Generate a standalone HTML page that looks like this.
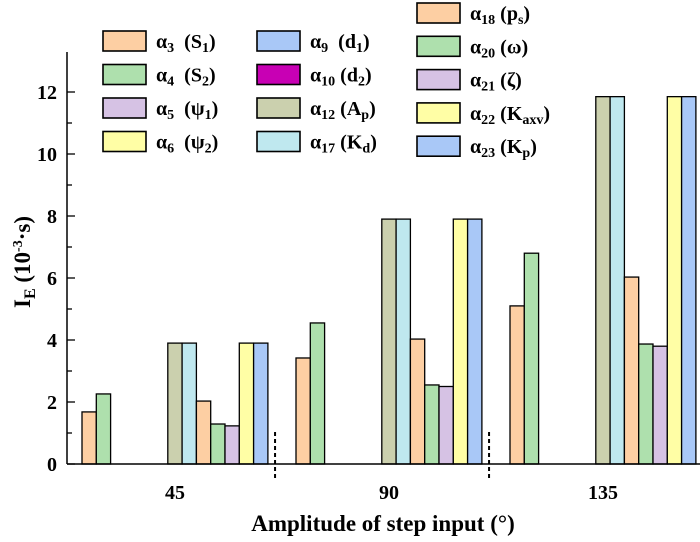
<!DOCTYPE html>
<html><head><meta charset="utf-8"><style>
body{margin:0;background:#fff}
svg{display:block;font-family:"Liberation Serif",serif;font-weight:bold}
</style></head><body>
<svg id="c" width="700" height="542"></svg>
<script>
const categories=["45","90","135"];
const seriesNames=[["α","3","(S","1",")"],["α","4","(S","2",")"],["α","5","(ψ","1",")"],["α","6","(ψ","2",")"],["α","9","(d","1",")"],["α","10","(d","2",")"],["α","12","(A","p",")"],["α","17","(K","d",")"],["α","18","(p","s",")"],["α","20","(ω",""," )"],["α","21","(ζ",""," )"],["α","22","(K","axv",")"],["α","23","(K","p",")"]];
const a3=[1.68,3.42,5.1];
const a4=[2.26,4.55,6.8];
const a5=[0,0,0];
const a6=[0,0,0];
const a9=[0,0,0];
const a10=[0,0,0];
const a12=[3.9,7.9,11.85];
const a17=[3.9,7.9,11.85];
const a18=[2.03,4.03,6.03];
const a20=[1.29,2.55,3.87];
const a21=[1.23,2.5,3.8];
const a22=[3.9,7.9,11.85];
const a23=[3.9,7.9,11.85];
const yTicks=[0,2,4,6,8,10,12];
const series=[a3,a4,a5,a6,a9,a10,a12,a17,a18,a20,a21,a22,a23];
const colors=["#fdcfa3","#aee0ad","#d6c2e4","#fffea5","#a9c8f7","#c800b4","#cbd0ae","#bfe8ef","#fdcfa3","#aee0ad","#d6c2e4","#fffea5","#a9c8f7"];
const svg=document.getElementById('c');const NS="http://www.w3.org/2000/svg";
function mk(t,a,p){const e=document.createElementNS(NS,t);for(const k in a)e.setAttribute(k,a[k]);(p||svg).appendChild(e);return e;}
const y0=464,py=31,x0=67,bw=14.3,g0=82,gp=214;
const Y=v=>y0-v*py;
const X=(g,s)=>g0+g*gp+s*bw;
const bars=mk('g',{});
series.forEach((arr,s)=>arr.forEach((v,g)=>{if(v<=0)return;const r=mk('rect',{x:X(g,s),y:Y(v),width:bw,height:v*py,fill:colors[s],stroke:'#000','stroke-width':1.3},bars);

}));
const ax=mk('line',{x1:x0,y1:y0,x2:700,y2:y0,stroke:'#000','stroke-width':1.5});
const ay=mk('line',{x1:x0,y1:y0,x2:x0,y2:52,stroke:'#000','stroke-width':1.5});
yTicks.forEach(v=>{mk('line',{x1:x0,y1:Y(v),x2:x0+8,y2:Y(v),stroke:'#000','stroke-width':1.3});
if(v<12)mk('line',{x1:x0,y1:Y(v+1),x2:x0+5,y2:Y(v+1),stroke:'#000','stroke-width':1.3});
const t=mk('text',{x:x0-10,y:Y(v)+7,'text-anchor':'end','font-size':20});t.textContent=v;});
categories.forEach((c,g)=>{const cx=X(g,6.5);const t=mk('text',{x:cx,y:499,'text-anchor':'middle','font-size':20});t.textContent=c;
if(g<2){const d=mk('line',{x1:X(g,13.5),y1:432,x2:X(g,13.5),y2:480,stroke:'#000','stroke-width':2,'stroke-dasharray':'4,3'});}});
const xt=mk('text',{x:383,y:531,'text-anchor':'middle','font-size':23});xt.textContent='Amplitude of step input (°)';
const yt=mk('text',{transform:'translate(30,262) rotate(-90)','text-anchor':'middle','font-size':23});
yt.innerHTML='I<tspan font-size="16" dy="5">E</tspan><tspan dy="-5"> (10</tspan><tspan font-size="14" dy="-8">-3</tspan><tspan dy="8">·s)</tspan>';
const pos=[];for(let i=0;i<4;i++)pos.push([103,31+i*33.5]);for(let i=0;i<4;i++)pos.push([257,31+i*33.5]);for(let i=0;i<5;i++)pos.push([417,3+i*33.3]);
seriesNames.forEach((n,s)=>{const [lx,ly]=pos[s];const g=mk('g',{});
mk('rect',{x:lx,y:ly,width:43,height:20,fill:colors[s],stroke:'#000','stroke-width':1.6},g);
const t=mk('text',{x:lx+53,y:ly+17,'font-size':20},g);
t.innerHTML=n[0]+'<tspan font-size="14" dy="4">'+n[1]+'</tspan><tspan dy="-4">'+(n[1].length<2?'\u00a0\u00a0':'\u00a0')+n[2]+'</tspan>'+(n[3]?'<tspan font-size="14" dy="4">'+n[3]+'</tspan><tspan dy="-4">'+n[4]+'</tspan>':'<tspan>)</tspan>');});
</script>
</body></html>
